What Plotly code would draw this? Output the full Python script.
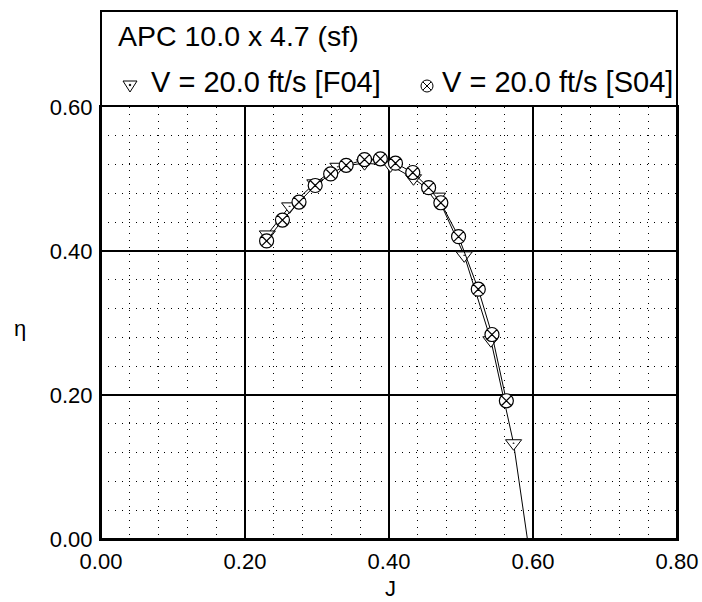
import plotly.graph_objects as go

# ---------------- data ----------------
f04_J = [0.231, 0.262, 0.297, 0.329, 0.366, 0.402, 0.434, 0.4675, 0.5045, 0.5415, 0.573, 0.598]
f04_eta = [0.423, 0.462, 0.494, 0.517, 0.522, 0.519, 0.501, 0.4755, 0.394, 0.276, 0.133, -0.040]

s04_J = [0.230, 0.252, 0.275, 0.2975, 0.319, 0.3405, 0.366, 0.388, 0.409, 0.433,
         0.455, 0.472, 0.4966, 0.524, 0.543, 0.563]
s04_eta = [0.414, 0.443, 0.468, 0.491, 0.507, 0.519, 0.527, 0.528, 0.522, 0.509,
           0.488, 0.467, 0.420, 0.347, 0.284, 0.192]

x_ticks = [0.0, 0.2, 0.4, 0.6, 0.8]
x_tick_labels = ["0.00", "0.20", "0.40", "0.60", "0.80"]
y_ticks = [0.0, 0.2, 0.4, 0.6]
y_tick_labels = ["0.00", "0.20", "0.40", "0.60"]

title_text = "APC 10.0 x 4.7 (sf)"
f04_label = "V = 20.0 ft/s [F04]"
s04_label = "V = 20.0 ft/s [S04]"
x_title = "J"
y_title = "η"

# ---------------- layout geometry ----------------
W, H = 702, 602
L, R, T, B = 101, 25, 107, 63
PW, PH = W - L - R, H - T - B
FONT = "Liberation Sans, Arial, Helvetica, sans-serif"


def px(x):
    return (x - L) / PW


def py(y):
    return (H - B - y) / PH


fig = go.Figure()

fig.add_trace(go.Scatter(
    x=f04_J, y=f04_eta, mode="lines+markers", name=f04_label, showlegend=False,
    line=dict(color="black", width=1),
    marker=dict(symbol="triangle-down-dot", size=14, color="white",
                line=dict(color="black", width=1)),
))
fig.add_trace(go.Scatter(
    x=s04_J, y=s04_eta, mode="lines+markers", name=s04_label, showlegend=False,
    line=dict(color="black", width=1),
    marker=dict(symbol="circle-x", size=14, color="white",
                line=dict(color="black", width=1.2)),
))

axis_common = dict(
    showgrid=True, gridcolor="black", gridwidth=1.5, automargin=False,
    zeroline=False, showline=True, mirror=True, linecolor="black", linewidth=2,
    ticks="", tickfont=dict(family=FONT, size=22, color="black"),
)
fig.update_xaxes(range=[0, 0.8], tickmode="array", tickvals=x_ticks, ticktext=x_tick_labels,
                 ticklabelstandoff=2,
                 minor=dict(tick0=0, dtick=0.04, showgrid=True, gridcolor="black",
                            gridwidth=1, griddash="1px,6px"),
                 **axis_common)
fig.update_yaxes(range=[0, 0.6], tickmode="array", tickvals=y_ticks, ticktext=y_tick_labels,
                 ticklabelstandoff=2,
                 minor=dict(tick0=0, dtick=0.04, showgrid=True, gridcolor="black",
                            gridwidth=1, griddash="1px,6px"),
                 **axis_common)

shapes = [
    # outer frame enclosing the legend box and the plot
    dict(type="rect", xref="paper", yref="paper", x0=0, x1=1, y0=0, y1=py(11),
         line=dict(color="black", width=2), layer="above"),
    # legend symbol: down triangle with dot
    dict(type="path", xref="paper", yref="paper",
         path=f"M {px(123)},{py(81)} L {px(137)},{py(81)} L {px(130)},{py(92)} Z",
         line=dict(color="black", width=1), fillcolor="white"),
    dict(type="circle", xref="paper", yref="paper",
         x0=px(129.2), x1=px(130.8), y0=py(85.8), y1=py(84.2),
         line=dict(color="black", width=1), fillcolor="black"),
    # legend symbol: circle with x
    dict(type="circle", xref="paper", yref="paper",
         x0=px(421), x1=px(433), y0=py(92), y1=py(80),
         line=dict(color="black", width=1), fillcolor="white"),
    dict(type="line", xref="paper", yref="paper",
         x0=px(427 - 4.2), x1=px(427 + 4.2), y0=py(86 - 4.2), y1=py(86 + 4.2),
         line=dict(color="black", width=1)),
    dict(type="line", xref="paper", yref="paper",
         x0=px(427 - 4.2), x1=px(427 + 4.2), y0=py(86 + 4.2), y1=py(86 - 4.2),
         line=dict(color="black", width=1)),
]

annotations = [
    dict(text=title_text, xref="paper", yref="paper", x=px(116), y=py(36),
         xanchor="left", yanchor="middle", showarrow=False,
         font=dict(family=FONT, size=28.5, color="black")),
    dict(text=f04_label, xref="paper", yref="paper", x=px(149), y=py(82),
         xanchor="left", yanchor="middle", showarrow=False,
         font=dict(family=FONT, size=29, color="black")),
    dict(text=s04_label, xref="paper", yref="paper", x=px(440), y=py(82),
         xanchor="left", yanchor="middle", showarrow=False,
         font=dict(family=FONT, size=29, color="black")),
    dict(text=x_title, xref="paper", yref="paper", x=px(390), y=py(588),
         xanchor="center", yanchor="middle", showarrow=False,
         font=dict(family=FONT, size=22, color="black")),
    dict(text=y_title, xref="paper", yref="paper", x=px(20), y=py(328),
         xanchor="center", yanchor="middle", showarrow=False,
         font=dict(family=FONT, size=22, color="black")),
]

fig.update_layout(
    width=W, height=H, autosize=False,
    margin=dict(l=L, r=R, t=T, b=B, pad=0, autoexpand=False),
    plot_bgcolor="white", paper_bgcolor="white",
    showlegend=False,
    shapes=shapes, annotations=annotations,
    font=dict(family=FONT, color="black"),
)

fig.write_html("out.html", config={"displayModeBar": False, "responsive": False},
               post_script="document.body.style.margin='0';document.body.style.overflow='hidden';")
